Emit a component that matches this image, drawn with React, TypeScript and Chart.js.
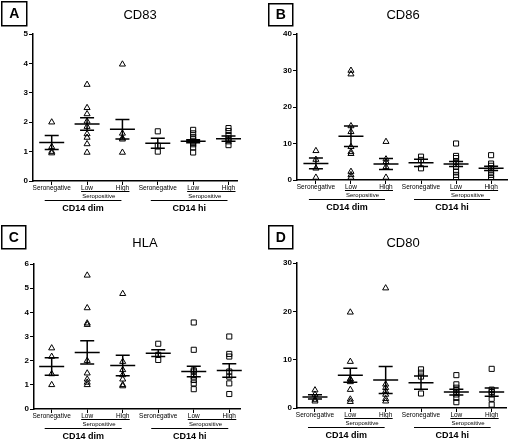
import { useEffect, useRef } from 'react';
import { Chart, registerables } from 'chart.js';
Chart.register(...registerables);

const categories = ['Seronegative', 'Low', 'High', 'Seronegative', 'Low', 'High'];
const subgroupLabel = 'Seropositive';
const groupLabels = ['CD14 dim', 'CD14 hi'];

const cd83Values = [
  [2.0, 1.16, 1.0, 0.95],
  [3.28, 2.49, 2.28, 2.03, 1.85, 1.6, 1.48, 1.26, 0.97],
  [3.97, 1.62, 1.46, 1.42, 0.97],
  [1.69, 1.2, 1.0],
  [1.74, 1.62, 1.5, 1.42, 1.35, 1.3, 1.25, 1.14, 0.97],
  [1.8, 1.7, 1.56, 1.45, 1.35, 1.22],
];
const cd83Means = [1.31, 1.94, 1.76, 1.28, 1.35, 1.44];
const cd83Sems = [0.24, 0.21, 0.33, 0.17, 0.05, 0.09];

const cd86Values = [
  [8.0, 5.6, 3.2, 0.7],
  [30, 29, 14.8, 13.2, 9.1, 7.7, 7.2, 2.3, 1.4, 0.7],
  [10.5, 5.7, 5.0, 3.6, 0.7],
  [6.4, 5.5, 3.2],
  [10.0, 6.6, 6.0, 5.0, 3.6, 2.3, 1.4, 0.7],
  [6.8, 4.5, 3.9, 3.2, 2.3, 1.4, 0.5],
];
const cd86Means = [4.55, 12.0, 4.4, 4.7, 4.4, 3.2];
const cd86Sems = [1.5, 2.8, 1.5, 1.0, 0.7, 0.6];

const hlaValues = [
  [2.52, 2.17, 1.45, 1.0],
  [5.53, 4.18, 3.55, 3.49, 2.0, 1.48, 1.23, 1.1, 1.0],
  [4.77, 1.96, 1.62, 1.41, 1.23, 1.0, 0.95],
  [2.7, 2.24, 2.03],
  [3.58, 2.45, 1.6, 1.55, 1.34, 1.2, 1.06, 0.82],
  [3.0, 2.28, 2.17, 1.55, 1.34, 1.06, 0.62],
];
const hlaMeans = [1.76, 2.34, 1.8, 2.31, 1.55, 1.59];
const hlaSems = [0.36, 0.48, 0.42, 0.14, 0.22, 0.28];

const cd80Values = [
  [3.7, 2.8, 1.75, 1.4],
  [19.8, 9.6, 6.0, 5.9, 5.4, 3.8, 1.8, 1.3],
  [24.8, 4.9, 4.2, 3.5, 2.8, 1.9, 1.4],
  [8.0, 7.3, 6.5, 3.0],
  [6.8, 4.9, 4.2, 3.7, 3.3, 2.8, 2.1, 1.2],
  [8.1, 3.8, 3.3, 2.8, 1.9, 0.7],
];
const cd80Means = [2.3, 6.8, 5.8, 5.25, 3.3, 3.3];
const cd80Sems = [0.45, 1.45, 2.8, 1.35, 0.6, 0.85];

type PanelCfg = {
  letter: string; title: string;
  values: number[][]; means: number[]; sems: number[];
  yMax: number; yStep: number;
  left: number; top: number;
  axisX: number; axisTop: number; axisBottom: number; axisRight: number;
  xMin: number; xMax: number;
  box: [number, number, number, number];
  titleX: number; titleY: number;
};

const panels: PanelCfg[] = [
  { letter: 'A', title: 'CD83', values: cd83Values, means: cd83Means, sems: cd83Sems, yMax: 5, yStep: 1,
    left: 0, top: 0, axisX: 33, axisTop: 34, axisBottom: 181, axisRight: 237, xMin: -0.529, xMax: 5.24,
    box: [1, 1, 25, 24], titleX: 140, titleY: 15 },
  { letter: 'B', title: 'CD86', values: cd86Values, means: cd86Means, sems: cd86Sems, yMax: 40, yStep: 10,
    left: 256, top: 0, axisX: 41, axisTop: 34, axisBottom: 180, axisRight: 252, xMin: -0.54, xMax: 5.454,
    box: [12, 3, 24, 22], titleX: 147, titleY: 15 },
  { letter: 'C', title: 'HLA', values: hlaValues, means: hlaMeans, sems: hlaSems, yMax: 6, yStep: 1,
    left: 0, top: 220, axisX: 34, axisTop: 44, axisBottom: 189, axisRight: 240, xMin: -0.498, xMax: 5.302,
    box: [1, 5, 24, 23], titleX: 145, titleY: 23 },
  { letter: 'D', title: 'CD80', values: cd80Values, means: cd80Means, sems: cd80Sems, yMax: 30, yStep: 10,
    left: 256, top: 220, axisX: 41, axisTop: 43, axisBottom: 188, axisRight: 250, xMin: -0.509, xMax: 5.405,
    box: [12, 5, 24, 23], titleX: 147, titleY: 23 },
];

const SANS = '"Liberation Sans", Arial, sans-serif';

function Panel({ cfg }: { cfg: PanelCfg }) {
  const ref = useRef<HTMLCanvasElement | null>(null);
  useEffect(() => {
    const dimPts: { x: number; y: number }[] = [];
    const hiPts: { x: number; y: number }[] = [];
    cfg.values.forEach((arr, i) => {
      arr.forEach((v) => (i < 3 ? dimPts : hiPts).push({ x: i, y: v }));
    });
    const deco = {
      id: 'deco',
      afterDatasetsDraw(chart: any) {
        const ctx = chart.ctx;
        const xs = chart.scales.x;
        const ys = chart.scales.y;
        ctx.save();
        ctx.strokeStyle = '#000';
        ctx.lineWidth = 1.5;
        cfg.means.forEach((m, i) => {
          const px = xs.getPixelForValue(i);
          const pm = ys.getPixelForValue(m);
          const pu = ys.getPixelForValue(m + cfg.sems[i]);
          const pl = ys.getPixelForValue(m - cfg.sems[i]);
          ctx.beginPath();
          ctx.moveTo(px - 12.5, pm); ctx.lineTo(px + 12.5, pm);
          ctx.moveTo(px, pu); ctx.lineTo(px, pl);
          ctx.moveTo(px - 7, pu); ctx.lineTo(px + 7, pu);
          ctx.moveTo(px - 7, pl); ctx.lineTo(px + 7, pl);
          ctx.stroke();
        });
        ctx.restore();
      },
      afterDraw(chart: any) {
        const ctx = chart.ctx;
        const xs = chart.scales.x;
        const b = chart.chartArea.bottom;
        ctx.save();
        ctx.fillStyle = '#000';
        ctx.strokeStyle = '#000';
        const [bx, by, bw, bh] = cfg.box;
        ctx.lineWidth = 1.5;
        ctx.strokeRect(bx + 0.75, by + 0.75, bw, bh);
        ctx.font = `bold 14px ${SANS}`;
        ctx.textAlign = 'center';
        ctx.textBaseline = 'middle';
        ctx.fillText(cfg.letter, bx + bw / 2 + 0.75, by + bh / 2 + 1.5);
        ctx.font = `13px ${SANS}`;
        ctx.fillText(cfg.title, cfg.titleX, cfg.titleY);
        ctx.font = `6.5px ${SANS}`;
        categories.forEach((c, i) => {
          ctx.fillText(c, xs.getPixelForValue(i), b + 7.5);
        });
        ctx.lineWidth = 1;
        [0, 3].forEach((start, g) => {
          const x1 = xs.getPixelForValue(start + 1);
          const x2 = xs.getPixelForValue(start + 2);
          const s1 = x1 - 6;
          const s2 = x2 + 7;
          ctx.beginPath();
          ctx.moveTo(s1, b + 10.5); ctx.lineTo(s2, b + 10.5);
          ctx.stroke();
          ctx.font = `6px ${SANS}`;
          ctx.fillText(subgroupLabel, (x1 + x2) / 2 - 6, b + 15);
          const g1 = xs.getPixelForValue(start) - 7;
          const g2 = xs.getPixelForValue(start + 2) - 1;
          ctx.beginPath();
          ctx.moveTo(g1, b + 19.5); ctx.lineTo(g2, b + 19.5);
          ctx.stroke();
          ctx.font = `bold 9px ${SANS}`;
          ctx.fillText(groupLabels[g], (g1 + g2) / 2, b + 28);
        });
        ctx.restore();
      },
    };
    const chart = new Chart(ref.current as HTMLCanvasElement, {
      type: 'scatter',
      data: {
        datasets: [
          { data: dimPts, pointStyle: 'triangle', pointRadius: 3.5, pointBorderWidth: 1,
            borderColor: '#000', backgroundColor: 'rgba(0,0,0,0)' } as any,
          { data: hiPts, pointStyle: 'rect', pointRadius: 3.6, pointBorderWidth: 1,
            borderColor: '#000', backgroundColor: 'rgba(0,0,0,0)' } as any,
        ],
      },
      options: {
        responsive: false,
        devicePixelRatio: 1,
        animation: false,
        layout: { padding: { left: 0, top: cfg.axisTop, right: 256 - cfg.axisRight, bottom: 220 - cfg.axisBottom } },
        plugins: { legend: { display: false }, tooltip: { enabled: false }, title: { display: false } },
        scales: {
          x: {
            type: 'linear', min: cfg.xMin, max: cfg.xMax,
            afterBuildTicks: (s: any) => { s.ticks = categories.map((_, i) => ({ value: i })); },
            ticks: { display: false },
            grid: { display: true, drawOnChartArea: false, drawTicks: true, tickLength: 4, color: '#000', lineWidth: 1 },
            border: { display: true, color: '#000', width: 1.5 },
            afterFit: (s: any) => { s.height = 0; },
          },
          y: {
            min: 0, max: cfg.yMax,
            ticks: { stepSize: cfg.yStep, color: '#000', padding: 1, font: { family: SANS, size: 8, weight: 'bold' } },
            grid: { display: true, drawOnChartArea: false, drawTicks: true, tickLength: 4, color: '#000', lineWidth: 1 },
            border: { display: true, color: '#000', width: 1.5 },
            afterFit: (s: any) => { s.width = cfg.axisX; },
          },
        },
      } as any,
      plugins: [deco],
    });
    return () => chart.destroy();
  }, []);
  return (
    <div style={{ position: 'absolute', left: cfg.left, top: cfg.top, width: 256, height: 220 }}>
      <canvas ref={ref} width={256} height={220} style={{ width: 256, height: 220, display: 'block' }} />
    </div>
  );
}

export default function App() {
  return (
    <div style={{ position: 'fixed', left: 0, top: 0, width: 512, height: 440, background: '#fff' }}>
      {panels.map((p) => <Panel key={p.letter} cfg={p} />)}
    </div>
  );
}
